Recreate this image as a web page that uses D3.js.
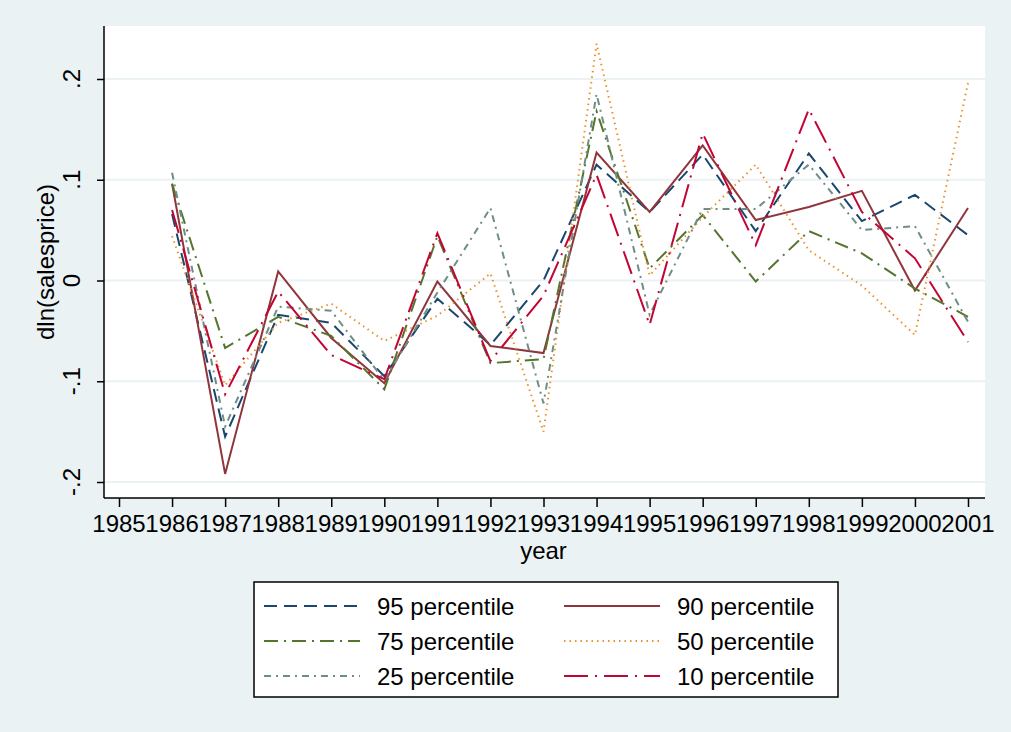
<!DOCTYPE html>
<html>
<head>
<meta charset="utf-8">
<script src="https://cdn.jsdelivr.net/npm/d3@7"></script>
<style>
  body { margin: 0; background: #fff; }
  text { font-family: "Liberation Sans", Arial, sans-serif; fill: #000; }
</style>
</head>
<body>
<script>
// Data
var years = [1986, 1987, 1988, 1989, 1990, 1991, 1992, 1993, 1994, 1995, 1996, 1997, 1998, 1999, 2000, 2001];
var xTicks = d3.range(1985, 2002);
var yTicks = [-0.2, -0.1, 0, 0.1, 0.2];
var yTickLabels = ["-.2", "-.1", "0", ".1", ".2"];

var p95 = [0.066, -0.155, -0.034, -0.042, -0.095, -0.018, -0.064, 0.000, 0.115, 0.068, 0.125, 0.049, 0.126, 0.059, 0.085, 0.045];
var p90 = [0.096, -0.192, 0.009, -0.057, -0.102, -0.001, -0.065, -0.072, 0.127, 0.068, 0.134, 0.060, 0.073, 0.089, -0.010, 0.072];
var p75 = [0.096, -0.067, -0.036, -0.055, -0.108, 0.044, -0.082, -0.078, 0.168, 0.012, 0.065, -0.001, 0.049, 0.027, -0.008, -0.036];
var p50 = [0.044, -0.104, -0.042, -0.023, -0.060, -0.035, 0.007, -0.150, 0.235, 0.005, 0.063, 0.115, 0.030, -0.005, -0.054, 0.196];
var p25 = [0.107, -0.145, -0.026, -0.030, -0.099, -0.012, 0.072, -0.122, 0.185, -0.034, 0.071, 0.071, 0.115, 0.050, 0.054, -0.041];
var p10 = [0.070, -0.113, -0.011, -0.074, -0.098, 0.047, -0.080, -0.015, 0.105, -0.044, 0.146, 0.035, 0.170, 0.068, 0.022, -0.061];

var seriesNames = ["95 percentile", "90 percentile", "75 percentile", "50 percentile", "25 percentile", "10 percentile"];
var seriesValues = [p95, p90, p75, p50, p25, p10];
var seriesColors = ["#1a476f", "#90353b", "#55752f", "#e8932a", "#6e8e84", "#c10534"];
var seriesDash = ["13,7", null, "14,6,2,6", "1.5,4", "7,5,2,5", "24,7,2,7"];

var width = 1011, height = 732;
var plot = {left: 104, right: 985, top: 26, bottom: 498};

var svg = d3.select("body").append("svg")
    .attr("width", width)
    .attr("height", height);

// outer background
svg.append("rect").attr("x", 0).attr("y", 0).attr("width", width).attr("height", height)
    .attr("fill", "#eaf2f3");

// plot region
svg.append("rect")
    .attr("x", plot.left).attr("y", plot.top)
    .attr("width", plot.right - plot.left).attr("height", plot.bottom - plot.top)
    .attr("fill", "#fff");

var x = d3.scaleLinear().domain([1985, 2001]).range([119, 968]);
var y = d3.scaleLinear().domain([-0.2, 0.2]).range([482, 79]);

// grid lines
svg.append("g").selectAll("line")
    .data(yTicks)
    .join("line")
    .attr("x1", plot.left).attr("x2", plot.right)
    .attr("y1", d => y(d)).attr("y2", d => y(d))
    .attr("stroke", "#eaf2f3")
    .attr("stroke-width", 2);

// y axis
var yAxis = svg.append("g")
    .attr("transform", `translate(${plot.left},0)`)
    .call(d3.axisLeft(y).tickValues(yTicks).tickSize(7).tickFormat(""));
yAxis.select(".domain").attr("d", `M0,${plot.top}V${plot.bottom}`).attr("stroke", "#000").attr("stroke-width", 1.5);
yAxis.selectAll(".tick line").attr("stroke", "#000").attr("stroke-width", 1.5);

svg.append("g").selectAll("text")
    .data(yTicks)
    .join("text")
    .attr("transform", (d) => `translate(80,${y(d)}) rotate(-90)`)
    .attr("text-anchor", "middle")
    .style("font-size", "24px")
    .text((d, i) => yTickLabels[i]);

// x axis
var xAxis = svg.append("g")
    .attr("transform", `translate(0,${plot.bottom})`)
    .call(d3.axisBottom(x).tickValues(xTicks).tickSize(9).tickFormat(""));
xAxis.select(".domain").attr("d", `M${plot.left},0H${plot.right}`).attr("stroke", "#000").attr("stroke-width", 1.5);
xAxis.selectAll(".tick line").attr("stroke", "#000").attr("stroke-width", 1.5);

svg.append("g").selectAll("text")
    .data(xTicks)
    .join("text")
    .attr("x", d => x(d))
    .attr("y", 532)
    .attr("text-anchor", "middle")
    .style("font-size", "24px")
    .text(d => d);

// axis titles
svg.append("text")
    .attr("x", (x(1985) + x(2001)) / 2)
    .attr("y", 559)
    .attr("text-anchor", "middle")
    .style("font-size", "24px")
    .text("year");

svg.append("text")
    .attr("transform", `translate(54,262) rotate(-90)`)
    .attr("text-anchor", "middle")
    .style("font-size", "24px")
    .text("dln(salesprice)");

// lines
var line = d3.line()
    .x((d, i) => x(years[i]))
    .y(d => y(d));

svg.append("g").selectAll("path")
    .data(seriesValues)
    .join("path")
    .attr("d", d => line(d))
    .attr("fill", "none")
    .attr("stroke", (d, i) => seriesColors[i])
    .attr("stroke-width", 2)
    .attr("stroke-dasharray", (d, i) => seriesDash[i]);

// legend
var legend = svg.append("g");
legend.append("rect")
    .attr("x", 254).attr("y", 582)
    .attr("width", 584).attr("height", 115)
    .attr("fill", "#fff")
    .attr("stroke", "#000")
    .attr("stroke-width", 1.5);

var rowY = [606, 641, 676];
var colX = [264, 564];
var items = legend.selectAll("g")
    .data(seriesNames)
    .join("g")
    .attr("transform", (d, i) => `translate(${colX[i % 2]},${rowY[Math.floor(i / 2)]})`);
items.append("line")
    .attr("x1", 0).attr("x2", 96)
    .attr("stroke", (d, i) => seriesColors[i])
    .attr("stroke-width", 2)
    .attr("stroke-dasharray", (d, i) => seriesDash[i]);
items.append("text")
    .attr("x", 113)
    .attr("dy", "0.36em")
    .style("font-size", "24px")
    .text(d => d);
</script>
</body>
</html>
